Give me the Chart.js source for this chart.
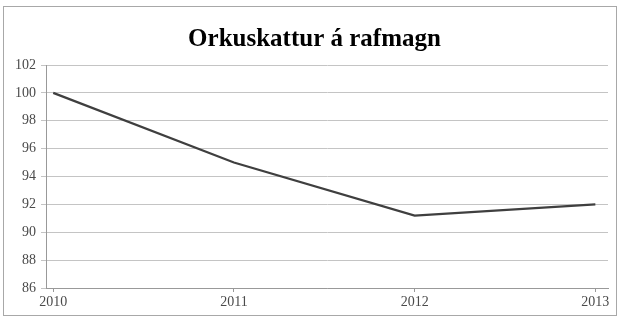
<!DOCTYPE html>
<html>
<head>
<meta charset="utf-8">
<script src="https://cdn.jsdelivr.net/npm/chart.js@4/dist/chart.umd.min.js"></script>
<style>
  body { margin: 0; background: #fff; }
  #wrap { width: 621px; height: 318px; position: relative; }
</style>
</head>
<body>
<div id="wrap"><canvas id="chart"></canvas></div>
<script>
const years = [2010, 2011, 2012, 2013];
const values = [100, 95, 91.2, 92];
const yTicks = [86, 88, 90, 92, 94, 96, 98, 100, 102];
const chartTitle = "Orkuskattur á rafmagn";

// frame and title, drawn by hand so they sit where the original has them
const framePlugin = {
    id: "frame",
    beforeDraw(chart) {
        const ctx = chart.ctx;
        ctx.save();
        ctx.fillStyle = "#fff";
        ctx.fillRect(0, 0, chart.width, chart.height);
        ctx.strokeStyle = "#a8a8a8";
        ctx.lineWidth = 1;
        ctx.strokeRect(3.5, 6.5, 613, 309);
        ctx.fillStyle = "#000";
        ctx.font = "bold 25px 'Liberation Serif'";
        ctx.textAlign = "center";
        ctx.textBaseline = "alphabetic";
        ctx.fillText(chartTitle, 314.5, 46);
        ctx.restore();
    }
};

const ctx = document.getElementById("chart").getContext("2d");

new Chart(ctx, {
    type: 'line',
    data: {
        datasets: [{
            data: years.map((y, i) => ({ x: y, y: values[i] })),
            borderColor: "#3f3f3f",
            borderWidth: 2.2,
            pointRadius: 0,
            tension: 0,
            fill: false
        }]
    },
    options: {
        responsive: true,
        maintainAspectRatio: false,
        animation: false,
        layout: { padding: { left: 0, right: 13, top: 65, bottom: 0 } },
        plugins: {
            legend: { display: false },
            tooltip: { enabled: false },
            title: { display: false }
        },
        scales: {
            x: {
                type: 'linear',
                min: 2009.96,
                max: 2013.07,
                afterBuildTicks: s => { s.ticks = years.map(v => ({ value: v })); },
                afterFit: s => { s.height = 30; },
                grid: { drawOnChartArea: false, drawTicks: true, tickLength: 4, color: "#999" },
                border: { color: "#999" },
                ticks: {
                    color: "#4a4a4a",
                    padding: 2,
                    maxRotation: 0,
                    font: { family: "Liberation Serif", size: 14 },
                    callback: v => String(v)
                }
            },
            y: {
                min: 86,
                max: 102,
                afterBuildTicks: s => { s.ticks = yTicks.map(v => ({ value: v })); },
                afterFit: s => { s.width = 46; },
                grid: { color: "#c4c4c4", tickLength: 5 },
                border: { color: "#999" },
                ticks: {
                    color: "#4a4a4a",
                    padding: 5,
                    font: { family: "Liberation Serif", size: 14 }
                }
            }
        }
    },
    plugins: [framePlugin]
});
</script>
</body>
</html>
